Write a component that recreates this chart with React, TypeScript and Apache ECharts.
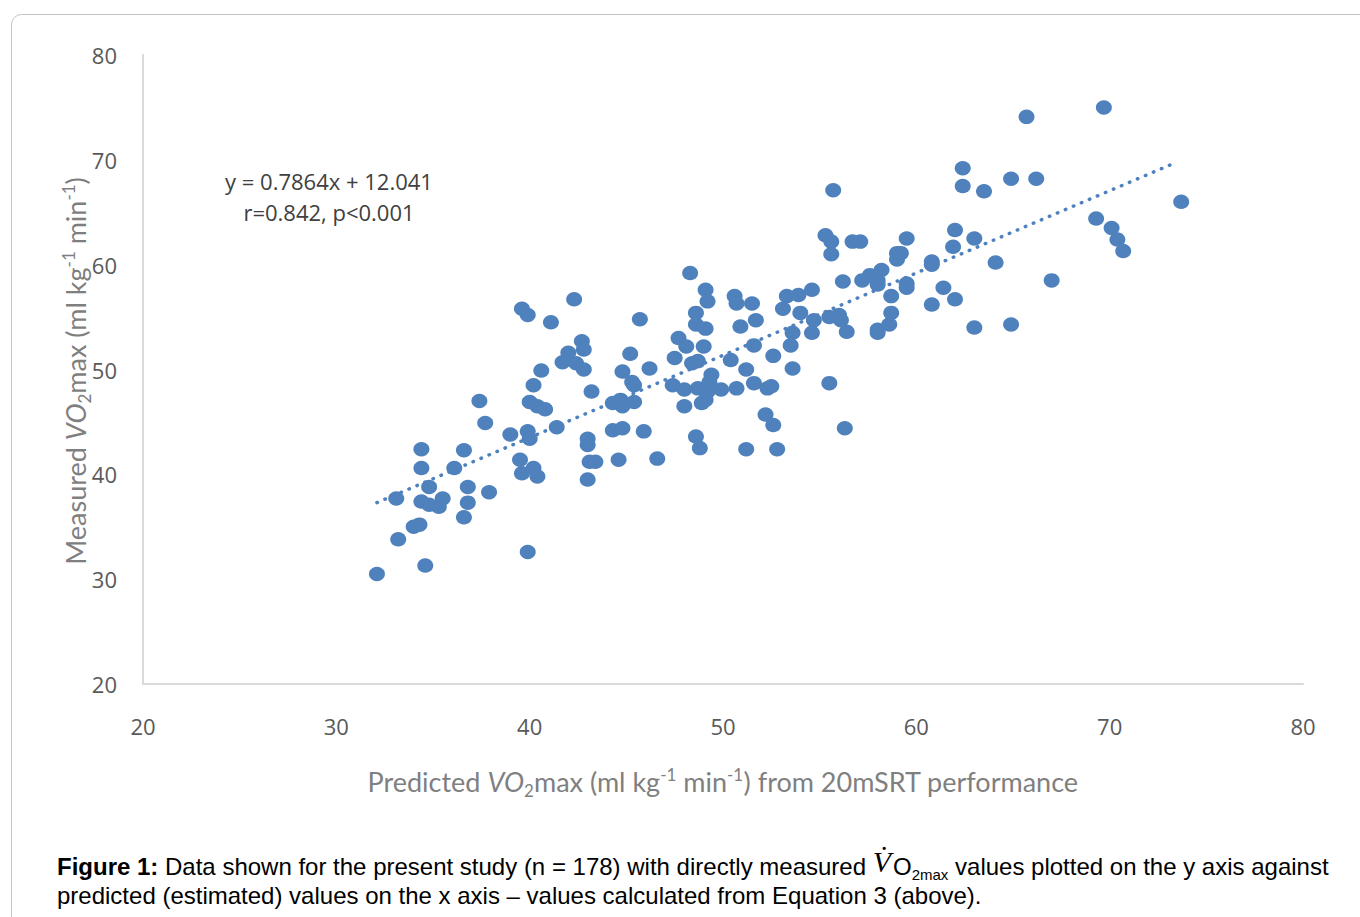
import React, { useEffect, useRef } from "react";
import * as echarts from "echarts";

// Predicted VO2max (x) and measured VO2max (y)
const predicted = [
  32.1, 34.6, 39.9, 33.2, 34.0, 34.3, 36.6, 33.1, 34.4, 34.8, 35.3, 35.5, 34.8, 36.8, 36.8, 37.9,
  34.4, 34.4, 36.1, 36.6, 37.4, 37.7, 39.0, 39.5, 39.6, 39.9, 40.0, 40.2, 40.4, 39.6, 39.9, 41.1,
  42.3, 40.2, 40.6, 40.0, 40.4, 40.8, 41.4, 41.7, 42.0, 42.4, 42.8, 42.7, 42.8, 43.2, 43.0, 43.0,
  43.1, 43.4, 43.0, 44.3, 44.8, 44.6, 45.9, 45.2, 45.7, 46.2, 44.8, 45.3, 45.4, 44.3, 44.8, 45.4,
  44.7, 46.6,
  48.3, 49.1, 49.2, 50.6, 50.7, 51.5, 51.7, 50.9, 48.6, 48.6, 49.1, 47.7, 48.1, 49.0, 47.5, 48.4,
  48.7, 50.4, 49.4, 49.3, 47.4, 48.0, 48.7, 49.2, 49.9, 50.7, 49.1, 48.9, 48.0, 51.2, 51.6, 52.3,
  52.5, 51.6, 52.6, 53.6, 53.5, 53.6, 53.1, 53.3, 53.9, 54.6, 54.0, 54.7, 54.6, 55.5, 56.0, 56.4,
  56.2, 57.2, 57.6, 58.2, 58.7, 58.0, 58.6, 58.7, 52.2, 52.6, 55.5, 56.3, 48.6, 48.8, 51.2, 52.8,
  69.7, 65.7, 62.4, 62.4, 55.7, 63.5, 64.9, 66.2, 73.7, 69.3, 70.1, 70.4, 70.7, 55.3, 55.6, 55.6,
  56.7, 57.1, 59.5, 62.0, 61.9, 63.0, 64.1, 67.0, 59.0, 59.2, 59.0, 58.0, 58.0, 60.8, 60.8, 59.5,
  59.5, 61.4, 62.0, 60.8, 58.0, 63.0, 64.9, 56.1,
];
const measured = [
  30.5, 31.3, 32.6, 33.8, 35.0, 35.2, 35.9, 37.7, 37.4, 37.1, 36.9, 37.7, 38.8, 37.3, 38.8, 38.3,
  40.6, 42.4, 40.6, 42.3, 47.0, 44.9, 43.8, 41.4, 40.1, 44.1, 43.4, 40.6, 39.8, 55.8, 55.2, 54.5,
  56.7, 48.5, 49.9, 46.9, 46.5, 46.2, 44.5, 50.7, 51.6, 50.6, 50.0, 52.7, 51.9, 47.9, 43.4, 42.8,
  41.2, 41.2, 39.5, 44.2, 44.4, 41.4, 44.1, 51.5, 54.8, 50.1, 49.8, 48.8, 48.5, 46.8, 46.5, 46.9,
  47.1, 41.5,
  59.2, 57.6, 56.5, 57.0, 56.3, 56.3, 54.7, 54.1, 55.4, 54.3, 53.9, 53.0, 52.2, 52.2, 51.1, 50.6,
  50.8, 50.9, 49.5, 48.8, 48.5, 48.1, 48.2, 47.9, 48.1, 48.2, 47.1, 46.8, 46.5, 50.0, 48.7, 48.2,
  48.4, 52.3, 51.3, 50.1, 52.3, 53.5, 55.8, 57.0, 57.1, 57.6, 55.4, 54.7, 53.5, 55.0, 55.2, 53.6,
  58.4, 58.5, 59.0, 59.5, 57.0, 53.8, 54.3, 55.4, 45.7, 44.7, 48.7, 44.4, 43.6, 42.5, 42.4, 42.4,
  75.0, 74.1, 69.2, 67.5, 67.1, 67.0, 68.2, 68.2, 66.0, 64.4, 63.5, 62.4, 61.3, 62.8, 62.2, 61.0,
  62.2, 62.2, 62.5, 63.3, 61.7, 62.5, 60.2, 58.5, 61.1, 61.1, 60.5, 58.5, 58.1, 60.3, 60.0, 58.2,
  57.8, 57.8, 56.7, 56.2, 53.5, 54.0, 54.3, 54.7,
];

// Linear trend line end points (y = 0.7864x + 12.041)
const trendX = [32.1, 73.5];
const trendY = [37.3, 69.8];

const equationLines = ["y = 0.7864x + 12.041", "r=0.842, p<0.001"];

const BLUE = "#4f81bd";

export default function App() {
  const ref = useRef<HTMLDivElement>(null);

  useEffect(() => {
    if (!ref.current) return;
    const chart = echarts.init(ref.current, undefined, { renderer: "svg" });

    const points = predicted.map((x, i) => [x, measured[i]]);
    const trend = trendX.map((x, i) => [x, trendY[i]]);

    const titleFont = "Lato";
    const titleColor = "#7f7f7f";
    const tFs = 27;
    const sFs = 17;
    const titleRich = {
      n: { fontFamily: titleFont, fontSize: tFs, fill: titleColor, lineHeight: 36 },
      i: { fontFamily: titleFont, fontSize: tFs, fontStyle: "italic", fill: titleColor, lineHeight: 36 },
      sub: { fontFamily: titleFont, fontSize: sFs, fill: titleColor, padding: [18, 0, 0, 0], lineHeight: 36 },
      sup: { fontFamily: titleFont, fontSize: sFs, fill: titleColor, padding: [0, 0, 13, 0], lineHeight: 36 },
    };

    const option: any = {
      animation: false,
      backgroundColor: "#ffffff",
      grid: { left: 143, top: 55, right: 57, bottom: 233, outerBoundsMode: "none" },
      xAxis: {
        type: "value",
        min: 20,
        max: 80,
        interval: 10,
        axisLine: { show: true, lineStyle: { color: "#d9d9d9", width: 2 } },
        axisTick: { show: false },
        splitLine: { show: false },
        axisLabel: {
          margin: 31,
          color: "#595959",
          fontFamily: "Open Sans",
          fontSize: 22,
        },
      },
      yAxis: {
        type: "value",
        min: 20,
        max: 80,
        interval: 10,
        axisLine: { show: true, lineStyle: { color: "#d9d9d9", width: 2 } },
        axisTick: { show: false },
        splitLine: { show: false },
        axisLabel: {
          margin: 26,
          color: "#595959",
          fontFamily: "Open Sans",
          fontSize: 22,
        },
      },
      series: [
        {
          type: "line",
          data: trend,
          symbol: "none",
          silent: true,
          z: 1,
          lineStyle: { color: BLUE, width: 3.5, type: [0.5, 8.2], cap: "round" },
        },
        {
          type: "scatter",
          data: points,
          symbol: "circle",
          symbolSize: [16, 14.5],
          z: 2,
          itemStyle: { color: BLUE, opacity: 1 },
        },
      ],
      graphic: [
        {
          type: "rect",
          silent: true,
          shape: { x: 11.5, y: 14.5, width: 1400, height: 1000, r: 10 },
          style: { fill: "none", stroke: "#c4c4c4", lineWidth: 1 },
        },
        {
          type: "text",
          x: 329,
          y: 181,
          style: {
            text: equationLines[0],
            textAlign: "center",
            verticalAlign: "middle",
            fontFamily: "Open Sans",
            fontSize: 22,
            fill: "#404040",
          },
        },
        {
          type: "text",
          x: 329,
          y: 212,
          style: {
            text: equationLines[1],
            textAlign: "center",
            verticalAlign: "middle",
            fontFamily: "Open Sans",
            fontSize: 22,
            fill: "#404040",
          },
        },
        {
          type: "text",
          x: 723,
          y: 781,
          style: {
            text: "{n|Predicted }{i|VO}{sub|2}{n|max (ml kg}{sup|-1}{n| min}{sup|-1}{n|) from 20mSRT performance}",
            textAlign: "center",
            verticalAlign: "middle",
            rich: titleRich,
          },
        },
        {
          type: "text",
          x: 75,
          y: 371,
          rotation: Math.PI / 2,
          style: {
            text: "{n|Measured }{i|VO}{sub|2}{n|max (ml kg}{sup|-1}{n| min}{sup|-1}{n|)}",
            textAlign: "center",
            verticalAlign: "middle",
            rich: titleRich,
          },
        },
        {
          type: "text",
          x: 57,
          y: 866,
          style: {
            text:
              "{b|Figure 1:}{n| Data shown for the present study (n = 178) with directly measured }{v|V\u0307}{n|O}{s|2max}{n| values plotted on the y axis against}",
            textAlign: "left",
            verticalAlign: "middle",
            rich: {
              b: { fontFamily: "Liberation Sans", fontSize: 24, fontWeight: "bold", fill: "#000", lineHeight: 32 },
              n: { fontFamily: "Liberation Sans", fontSize: 24, fill: "#000", lineHeight: 32 },
              v: { fontFamily: "Liberation Serif", fontSize: 30, fontStyle: "italic", fill: "#000", padding: [0, 2, 10, 0], lineHeight: 32 },
              s: { fontFamily: "Liberation Sans", fontSize: 15, fill: "#000", padding: [16, 0, 0, 0], lineHeight: 32 },
            },
          },
        },
        {
          type: "text",
          x: 57,
          y: 895,
          style: {
            text: "predicted (estimated) values on the x axis \u2013 values calculated from Equation 3 (above).",
            textAlign: "left",
            verticalAlign: "middle",
            fontFamily: "Liberation Sans",
            fontSize: 24,
            fill: "#000",
          },
        },
      ],
    };

    chart.setOption(option);
    return () => chart.dispose();
  }, []);

  return (
    <div
      ref={ref}
      style={{ position: "fixed", left: 0, top: 0, width: 1360, height: 917, background: "#fff" }}
    />
  );
}
